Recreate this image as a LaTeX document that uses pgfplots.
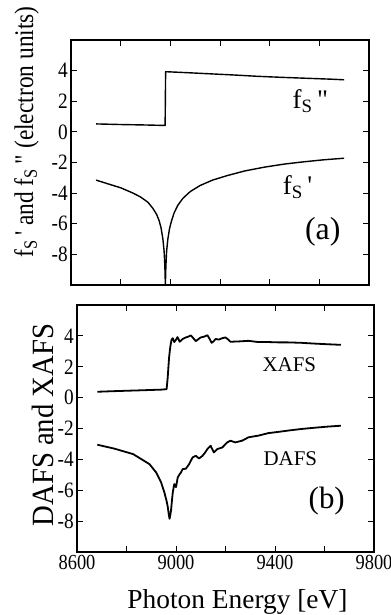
\documentclass[border=0pt]{standalone}
\usepackage{fontspec}
\setmainfont{Liberation Serif}[Ligatures=TeXOff]
\newfontfamily\tickfont{Liberation Serif}[FakeStretch=0.88, Ligatures=TeXOff]
\newfontfamily\xtickfont{Liberation Serif}[FakeStretch=0.86, Ligatures=TeXOff]
\newfontfamily\labfont{Liberation Serif}[FakeStretch=0.87, Ligatures=TeXOff]
\newfontfamily\labbfont{Liberation Serif}[FakeStretch=0.93, Ligatures=TeXOff]
\usepackage{pgfplots}
\pgfplotsset{compat=1.18}

\pgfplotstableread{
E v
8701 0.52
8800 0.48
8900 0.45
8979 0.42
8981 3.93
9050 3.88
9150 3.80
9250 3.72
9350 3.63
9450 3.56
9550 3.50
9650 3.44
9700 3.40
}\fpp

\pgfplotstableread{
E v
8701 -3.15
8750 -3.40
8800 -3.65
8850 -4.00
8880 -4.25
8910 -4.60
8930 -5.00
8945 -5.40
8955 -5.80
8963 -6.30
8970 -7.00
8975 -7.80
8978 -8.80
8980 -10.0
8982 -8.80
8985 -7.80
8990 -7.00
8997 -6.30
9005 -5.80
9015 -5.30
9030 -4.80
9050 -4.35
9080 -3.90
9120 -3.50
9170 -3.15
9230 -2.85
9300 -2.55
9380 -2.30
9460 -2.10
9540 -1.95
9620 -1.82
9700 -1.72
}\fp

\pgfplotstableread{
E v
8682 0.38
8750 0.42
8850 0.47
8943 0.52
8962 0.55
8966 1.20
8972 2.60
8977 3.30
8982 3.75
8987 3.85
8993 3.60
9000 3.75
9006 3.92
9015 3.62
9027 3.80
9040 3.90
9050 3.95
9060 4.03
9070 3.85
9080 3.66
9090 3.78
9100 3.90
9113 3.95
9127 4.04
9136 3.80
9144 3.55
9152 3.65
9160 3.80
9173 3.76
9187 3.85
9200 3.90
9212 3.75
9220 3.62
9253 3.64
9293 3.68
9333 3.60
9373 3.60
9413 3.58
9450 3.58
9507 3.55
9560 3.50
9610 3.46
9666 3.42
}\xafs

\pgfplotstableread{
E v
8682 -3.05
8750 -3.30
8827 -3.66
8893 -4.31
8920 -4.85
8940 -5.50
8953 -6.14
8962 -6.70
8967 -7.10
8971 -7.60
8974 -7.85
8977 -7.60
8980 -7.30
8984 -6.60
8987 -6.14
8993 -5.60
9000 -5.80
9007 -5.17
9015 -4.95
9020 -4.85
9027 -4.63
9040 -4.60
9053 -4.31
9067 -3.87
9080 -3.77
9093 -3.94
9107 -3.77
9118 -3.55
9127 -3.33
9140 -3.12
9153 -3.55
9167 -3.33
9187 -3.23
9207 -2.90
9220 -2.79
9240 -2.90
9267 -2.79
9293 -2.57
9333 -2.46
9373 -2.30
9413 -2.22
9460 -2.12
9507 -2.03
9560 -1.95
9610 -1.88
9666 -1.82
}\dafs

\begin{document}
\begin{tikzpicture}
\useasboundingbox (0bp,0bp) rectangle (391bp,-615bp);
\pgfplotsset{
  panel/.style={
    scale only axis,
    xmin=8600, xmax=9800, ymin=-10, ymax=6,
    xtick={8600,8800,...,9800},
    ytick={-8,-6,...,4}, yticklabels={-8,-6,-4,-2,0,2,4},
    tick align=inside, tick pos=both,
    major tick length=6bp,
    every tick/.style={line width=0.9bp, black},
    axis line style={line width=1.3bp, black},
    yticklabel style={font=\tickfont\fontsize{22}{22}\selectfont, inner sep=3bp},
    xticklabel style={font=\xtickfont\fontsize{21.5}{21.5}\selectfont, inner sep=3bp},
    every axis plot/.append style={black, no markers, line join=round},
  }
}
\begin{axis}[panel, at={(71bp,-285bp)}, anchor=south west, width=298bp, height=245bp,
  xticklabels={}]
  \addplot[line width=1.4bp] table[x=E,y=v]{\fpp};
  \addplot[line width=1.4bp] table[x=E,y=v]{\fp};
  \node[font=\fontsize{27}{27}\selectfont] at (axis cs:9564,1.98) {f\textsubscript{S}\,"};
  \node[font=\fontsize{27}{27}\selectfont] at (axis cs:9512,-3.63) {f\textsubscript{S}\,'};
  \node[font=\fontsize{32}{32}\selectfont] at (axis cs:9614,-6.55) {(a)};
\end{axis}
\begin{axis}[panel, at={(77bp,-552bp)}, anchor=south west, width=297bp, height=247bp,
  xticklabels={8600,,9000,,9400,,9800}]
  \addplot[line width=1.8bp] table[x=E,y=v]{\xafs};
  \addplot[line width=1.8bp] table[x=E,y=v]{\dafs};
  \node[font=\fontsize{21}{21}\selectfont] at (axis cs:9458,2.15) {XAFS};
  \node[font=\fontsize{21}{21}\selectfont] at (axis cs:9462,-3.94) {DAFS};
  \node[font=\fontsize{31}{31}\selectfont] at (axis cs:9609,-6.73) {(b)};
\end{axis}
\node[rotate=90, anchor=base, font=\labfont\fontsize{27}{27}\selectfont] at (33bp,-132bp)
  {f\textsubscript{S}\,' and f\textsubscript{S}\," (electron units)};
\node[rotate=90, anchor=base, font=\labbfont\fontsize{31}{31}\selectfont] at (53bp,-425bp)
  {DAFS and XAFS};
\node[anchor=base, font=\fontsize{27.5}{27.5}\selectfont] at (237.5bp,-608.5bp)
  {Photon Energy [eV]};
\end{tikzpicture}
\end{document}
